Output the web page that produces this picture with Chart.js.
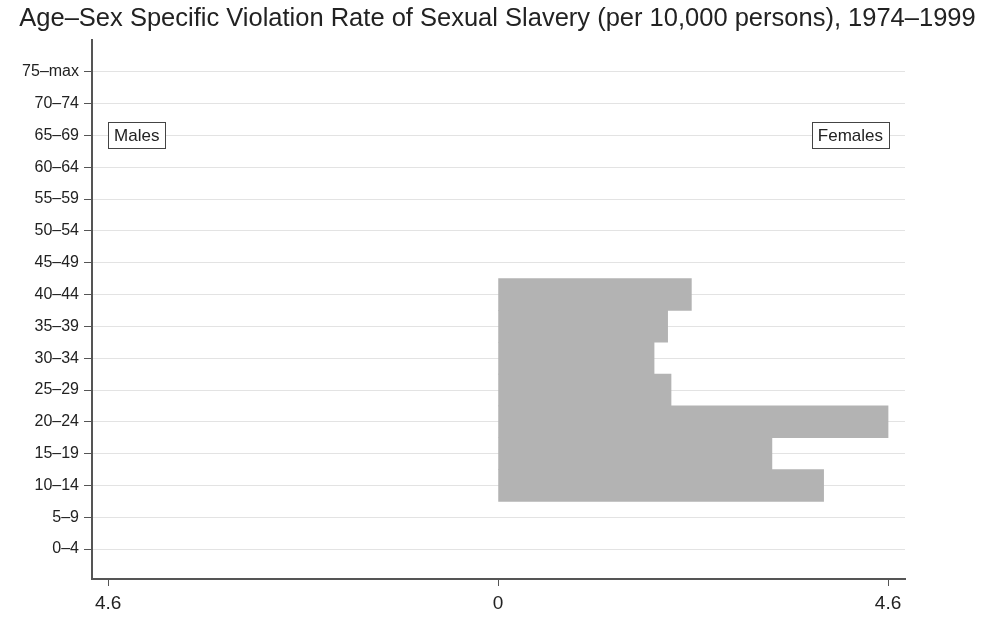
<!DOCTYPE html>
<html lang="en">
<head>
    <meta charset="UTF-8">
    <title>Age-Sex Specific Violation Rate of Sexual Slavery</title>
    <script src="https://cdn.jsdelivr.net/npm/chart.js"></script>
    <style>
        body { margin: 0; padding: 0; background: #fff; }
        #wrap { width: 995px; height: 619px; position: relative; }
    </style>
</head>
<body>

<div id="wrap">
    <canvas id="pyramid"></canvas>
</div>

<script>
    // age groups, bottom to top
    const ageGroups = ['0–4', '5–9', '10–14', '15–19', '20–24', '25–29', '30–34', '35–39',
                       '40–44', '45–49', '50–54', '55–59', '60–64', '65–69', '70–74', '75–max'];
    // rates per 10,000 persons
    const femaleRates = [0, 0, 3.84, 3.23, 4.6, 2.04, 1.84, 2.0, 2.28, 0, 0, 0, 0, 0, 0, 0];
    const maleRates   = [0, 0, 0, 0, 0, 0, 0, 0, 0, 0, 0, 0, 0, 0, 0, 0];
    const xTicks = [-4.6, 0, 4.6];
    const titleText = 'Age–Sex Specific Violation Rate of Sexual Slavery (per 10,000 persons), 1974–1999';

    const axisColor = '#555';
    const font = 'Liberation Sans, Arial, sans-serif';

    // title (centred on the page) and the "Males" / "Females" boxes
    const decorations = {
        id: 'decorations',
        afterDatasetsDraw(chart) {
            const { ctx, scales: { x, y } } = chart;
            ctx.save();
            ctx.fillStyle = '#222';
            ctx.font = '25.5px ' + font;
            ctx.textAlign = 'center';
            ctx.textBaseline = 'middle';
            ctx.fillText(titleText, chart.width / 2, 19);

            const yy = y.getPixelForValue(13);
            ctx.font = '17px ' + font;
            ctx.textAlign = 'left';
            const drawBox = (text, px, align) => {
                const w = ctx.measureText(text).width + 12;
                const left = align === 'left' ? px : px - w;
                ctx.fillStyle = '#fff';
                ctx.fillRect(left, yy - 13, w, 26);
                ctx.strokeStyle = '#444';
                ctx.lineWidth = 1;
                ctx.strokeRect(Math.round(left) + 0.5, Math.round(yy - 13) + 0.5, Math.round(w), 26);
                ctx.fillStyle = '#222';
                ctx.fillText(text, left + 6, yy + 1);
            };
            drawBox('Males', x.getPixelForValue(-4.6), 'left');
            drawBox('Females', x.getPixelForValue(4.6) + 1, 'right');
            ctx.restore();
        }
    };

    const toBars = (arr, sign) => arr.map((v, i) => ({ x: v ? sign * v : null, y: i }));

    new Chart(document.getElementById('pyramid'), {
        type: 'bar',
        data: {
            datasets: [{
                label: 'Males',
                data: toBars(maleRates, -1),
                backgroundColor: '#b3b3b3',
                barPercentage: 1,
                categoryPercentage: 1
            }, {
                label: 'Females',
                data: toBars(femaleRates, 1),
                backgroundColor: '#b3b3b3',
                barPercentage: 1,
                categoryPercentage: 1
            }]
        },
        options: {
            indexAxis: 'y',
            grouped: false,
            responsive: true,
            maintainAspectRatio: false,
            animation: false,
            layout: { padding: { left: 0, right: 90, top: 40, bottom: 0 } },
            plugins: {
                legend: { display: false },
                tooltip: { enabled: false },
                title: { display: false }
            },
            scales: {
                x: {
                    type: 'linear',
                    min: -4.79,
                    max: 4.8,
                    afterBuildTicks: s => { s.ticks = xTicks.map(v => ({ value: v })); },
                    afterFit: s => { s.height = 40; },
                    ticks: {
                        callback: v => Math.abs(v).toString(),
                        color: '#222',
                        font: { family: font, size: 19 },
                        padding: 6,
                        maxRotation: 0
                    },
                    grid: { drawOnChartArea: false, tickColor: axisColor, tickLength: 7 },
                    border: { color: axisColor, width: 2 }
                },
                y: {
                    type: 'linear',
                    min: -0.94,
                    max: 16,
                    offset: false,
                    afterBuildTicks: s => { s.ticks = ageGroups.map((g, i) => ({ value: i })); },
                    afterFit: s => { s.width = 92; },
                    ticks: {
                        callback: v => ageGroups[v],
                        color: '#222',
                        font: { family: font, size: 16 },
                        padding: 5
                    },
                    grid: { offset: false, color: '#e3e3e3', tickColor: axisColor, tickLength: 8 },
                    border: { color: axisColor, width: 2 }
                }
            }
        },
        plugins: [decorations]
    });
</script>

</body>
</html>
